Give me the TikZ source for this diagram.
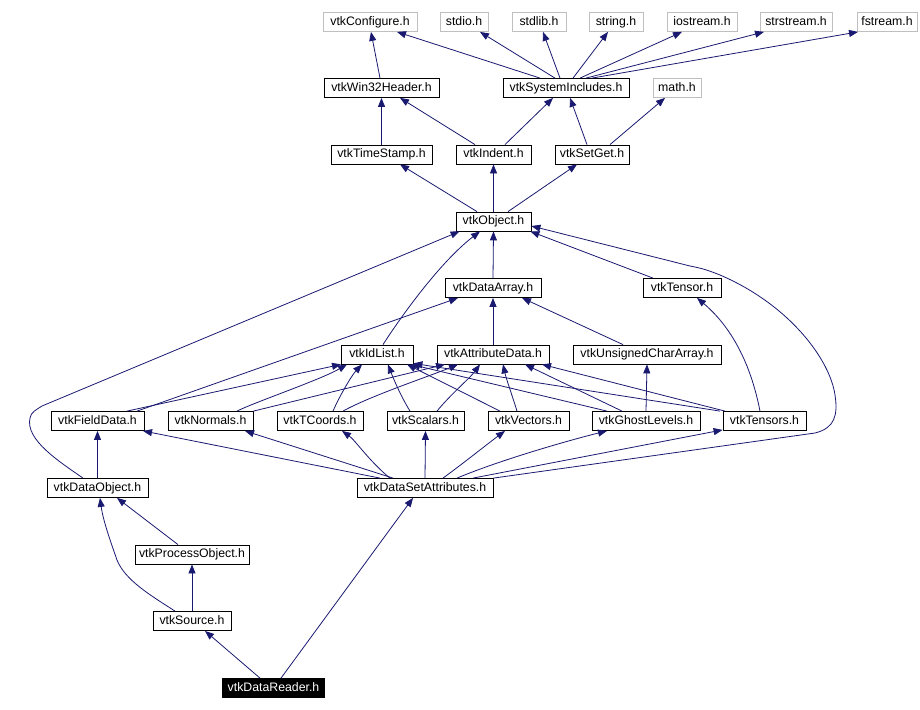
\documentclass[tikz,border=0pt]{standalone}
\usepackage{fontspec}
\setmainfont{Liberation Sans}
\usetikzlibrary{arrows.meta,calc}
\definecolor{edgeblue}{RGB}{25,25,112}
\definecolor{extgray}{RGB}{191,191,191}
\begin{document}
\begin{tikzpicture}[x=1pt,y=-1pt,
  box/.style={draw=black, fill=white, line width=0.8pt, minimum height=19pt, inner sep=0pt,
    text height=8.6pt, text depth=2.4pt, font=\fontsize{12.3}{14}\selectfont},
  ext/.style={box, draw=extgray},
  hl/.style={box, fill=black, text=white},
  edge/.style={draw=edgeblue, line width=0.8pt, -{Triangle[length=9pt,width=7pt]}}]
\useasboundingbox (0,0) rectangle (920,709);
% row 0
\node[ext, minimum width=94pt] (conf) at (370,22) {vtkConfigure.h};
\node[ext, minimum width=48pt] (stdio) at (464,22) {stdio.h};
\node[ext, minimum width=54pt] (stdlib) at (539,22) {stdlib.h};
\node[ext, minimum width=54pt] (string) at (616,22) {string.h};
\node[ext, minimum width=70pt] (iostr) at (702,22) {iostream.h};
\node[ext, minimum width=72pt] (strstr) at (796,22) {strstream.h};
\node[ext, minimum width=60pt] (fstr) at (887,22) {fstream.h};
% row 1
\node[box, minimum width=115pt] (win) at (381.5,88) {vtkWin32Header.h};
\node[box, minimum width=126pt] (si) at (566,88) {vtkSystemIncludes.h};
\node[ext, minimum width=48pt] (math) at (677,88) {math.h};
% row 2
\node[box, minimum width=101pt] (ts) at (381.5,154.5) {vtkTimeStamp.h};
\node[box, minimum width=75pt] (ind) at (493.5,154.5) {vtkIndent.h};
\node[box, minimum width=74pt] (sg) at (592,154.5) {vtkSetGet.h};
% row 3
\node[box, minimum width=75pt] (obj) at (493.5,221.5) {vtkObject.h};
% row 4
\node[box, minimum width=96pt] (da) at (493,288) {vtkDataArray.h};
\node[box, minimum width=78pt] (tensor) at (682,288) {vtkTensor.h};
% row 5
\node[box, minimum width=72pt] (idl) at (377,354.5) {vtkIdList.h};
\node[box, minimum width=112pt] (attr) at (493,354.5) {vtkAttributeData.h};
\node[box, minimum width=148pt] (uca) at (647,354.5) {vtkUnsignedCharArray.h};
% row 6
\node[box, minimum width=93pt] (fd) at (97.5,421) {vtkFieldData.h};
\node[box, minimum width=85pt] (nor) at (210.5,421) {vtkNormals.h};
\node[box, minimum width=86pt] (tc) at (320,421) {vtkTCoords.h};
\node[box, minimum width=77pt] (sc) at (425.5,421) {vtkScalars.h};
\node[box, minimum width=81pt] (vec) at (528.5,421) {vtkVectors.h};
\node[box, minimum width=108pt] (gl) at (646,421) {vtkGhostLevels.h};
\node[box, minimum width=83pt] (ten) at (764.5,421) {vtkTensors.h};
% row 7
\node[box, minimum width=101pt] (dobj) at (97.5,488) {vtkDataObject.h};
\node[box, minimum width=136pt] (dsa) at (425,488) {vtkDataSetAttributes.h};
% row 8
\node[box, minimum width=114pt] (po) at (192,554.5) {vtkProcessObject.h};
% row 9
\node[box, minimum width=78pt] (src) at (192,621) {vtkSource.h};
% row 10
\node[hl, minimum width=102pt] (dr) at (273.5,688) {vtkDataReader.h};

% edges to row 0
\draw[edge] ([xshift=-1.5pt]win.north) -- ([xshift=1pt]conf.south);
\draw[edge] ([xshift=-26pt]si.north) -- ([xshift=27pt]conf.south);
\draw[edge] ([xshift=-11pt]si.north) -- ([xshift=16pt]stdio.south);
\draw[edge] ([xshift=-6pt]si.north) -- ([xshift=4pt]stdlib.south);
\draw[edge] ([xshift=7pt]si.north) -- ([xshift=-8pt]string.south);
\draw[edge] ([xshift=14pt]si.north) -- ([xshift=-20pt]iostr.south);
\draw[edge] ([xshift=20pt]si.north) -- ([xshift=-32pt]strstr.south);
\draw[edge] ([xshift=26pt]si.north) -- ([xshift=-29pt]fstr.south);
% edges to row 1
\draw[edge] (ts.north) -- (win.south);
\draw[edge] ([xshift=-18.5pt]ind.north) -- ([xshift=18.5pt]win.south);
\draw[edge] ([xshift=11.5pt]ind.north) -- ([xshift=-13pt]si.south);
\draw[edge] ([xshift=-5pt]sg.north) -- ([xshift=4pt]si.south);
\draw[edge] ([xshift=18pt]sg.north) -- ([xshift=-12pt]math.south);
% edges to row 2
\draw[edge] ([xshift=-16.5pt]obj.north) -- ([xshift=18.5pt]ts.south);
\draw[edge] (obj.north) -- (ind.south);
\draw[edge] ([xshift=14.5pt]obj.north) -- ([xshift=-15pt]sg.south);
% edges to vtkObject
\draw[edge] (da.north) -- (obj.south);
\draw[edge] ([xshift=-29pt]tensor.north) -- ([xshift=-1pt]obj.south east);
\draw[edge] ([xshift=6pt]idl.north) .. controls (400,318) and (440,262) .. ([xshift=-13.5pt]obj.south);
\draw[edge] ([xshift=-14.5pt]dobj.north) .. controls (60,462) and (25,440) .. (30,418)
  .. controls (31,412) and (36,410) .. (42,406) -- ([xshift=4pt]obj.south west);
\draw[edge] (dsa.north east) -- (815,433) .. controls (835,428) and (838,415) .. (835,395)
  .. controls (830,360) and (790,305) .. (720,275) .. controls (705,269) and (700,268) .. (690,266)
  -- ([yshift=-4.5pt]obj.east);
% edges to vtkDataArray
\draw[edge] (attr.north) -- (da.south);
\draw[edge] ([xshift=-24pt]uca.north) -- ([xshift=29pt]da.south);
\draw[edge] ([xshift=39.5pt]fd.north) -- ([xshift=-35pt]da.south);
% edges to vtkIdList
\draw[edge] ([xshift=29.5pt]fd.north) -- ([xshift=-36pt]idl.south);
\draw[edge] ([xshift=26.5pt]nor.north) .. controls (255,402) and (320,380) .. ([xshift=-30pt]idl.south);
\draw[edge] ([xshift=13pt]tc.north) .. controls (340,395) and (352,375) .. ([xshift=-15pt]idl.south);
\draw[edge] ([xshift=-15.5pt]sc.north) .. controls (400,395) and (392,375) .. ([xshift=11pt]idl.south);
\draw[edge] ([xshift=-28.5pt]vec.north) -- ([xshift=30pt]idl.south);
\draw[edge] ([xshift=-39pt]gl.north) -- ([xshift=34pt]idl.south);
\draw[edge] ([xshift=-44.5pt]ten.north) -- ([yshift=1pt]idl.south east);
% edges to vtkAttributeData
\draw[edge] (nor.north east) -- ([xshift=-48pt]attr.south);
\draw[edge] ([xshift=23pt]tc.north) .. controls (370,396) and (430,376) .. ([xshift=-35pt]attr.south);
\draw[edge] ([xshift=11.5pt]sc.north) .. controls (450,395) and (470,378) .. ([xshift=-13pt]attr.south);
\draw[edge] ([xshift=-11.5pt]vec.north) .. controls (512,395) and (506,378) .. ([xshift=10pt]attr.south);
\draw[edge] ([xshift=-24pt]gl.north) -- ([xshift=32pt]attr.south);
\draw[edge] ([xshift=-39.5pt]ten.north) -- ([xshift=49pt]attr.south);
% other row 5 targets
\draw[edge] (gl.north) -- (uca.south);
\draw[edge] ([xshift=-4.5pt]ten.north) .. controls (752,370) and (735,330) .. ([xshift=15pt]tensor.south);
% edges from vtkDataSetAttributes to row 6
\draw[edge] ([xshift=-45pt]dsa.north) -- ([xshift=45.5pt]fd.south);
\draw[edge] ([xshift=-32pt]dsa.north) -- ([xshift=34.5pt]nor.south);
\draw[edge] ([xshift=-35pt]dsa.north) .. controls (370,462) and (355,440) .. ([xshift=22pt]tc.south);
\draw[edge] (dsa.north) -- (sc.south);
\draw[edge] ([xshift=18pt]dsa.north) .. controls (465,462) and (490,442) .. ([xshift=-23.5pt]vec.south);
\draw[edge] ([xshift=32pt]dsa.north) .. controls (500,460) and (570,440) .. ([xshift=-39pt]gl.south);
\draw[edge] ([xshift=48pt]dsa.north) -- ([yshift=1pt]ten.south west);
% lower part
\draw[edge] (dobj.north) -- (fd.south);
\draw[edge] ([xshift=-14pt]po.north) -- ([xshift=19.5pt]dobj.south);
\draw[edge] ([xshift=-17pt]src.north) .. controls (150,595) and (125,580) .. (117,560)
  .. controls (110,540) and (103,520) .. ([xshift=2.5pt]dobj.south);
\draw[edge] (src.north) -- (po.south);
\draw[edge] ([xshift=-13.5pt]dr.north) -- ([xshift=13pt]src.south);
\draw[edge] ([xshift=7.5pt]dr.north) -- ([xshift=-12pt]dsa.south);
\end{tikzpicture}
\end{document}
